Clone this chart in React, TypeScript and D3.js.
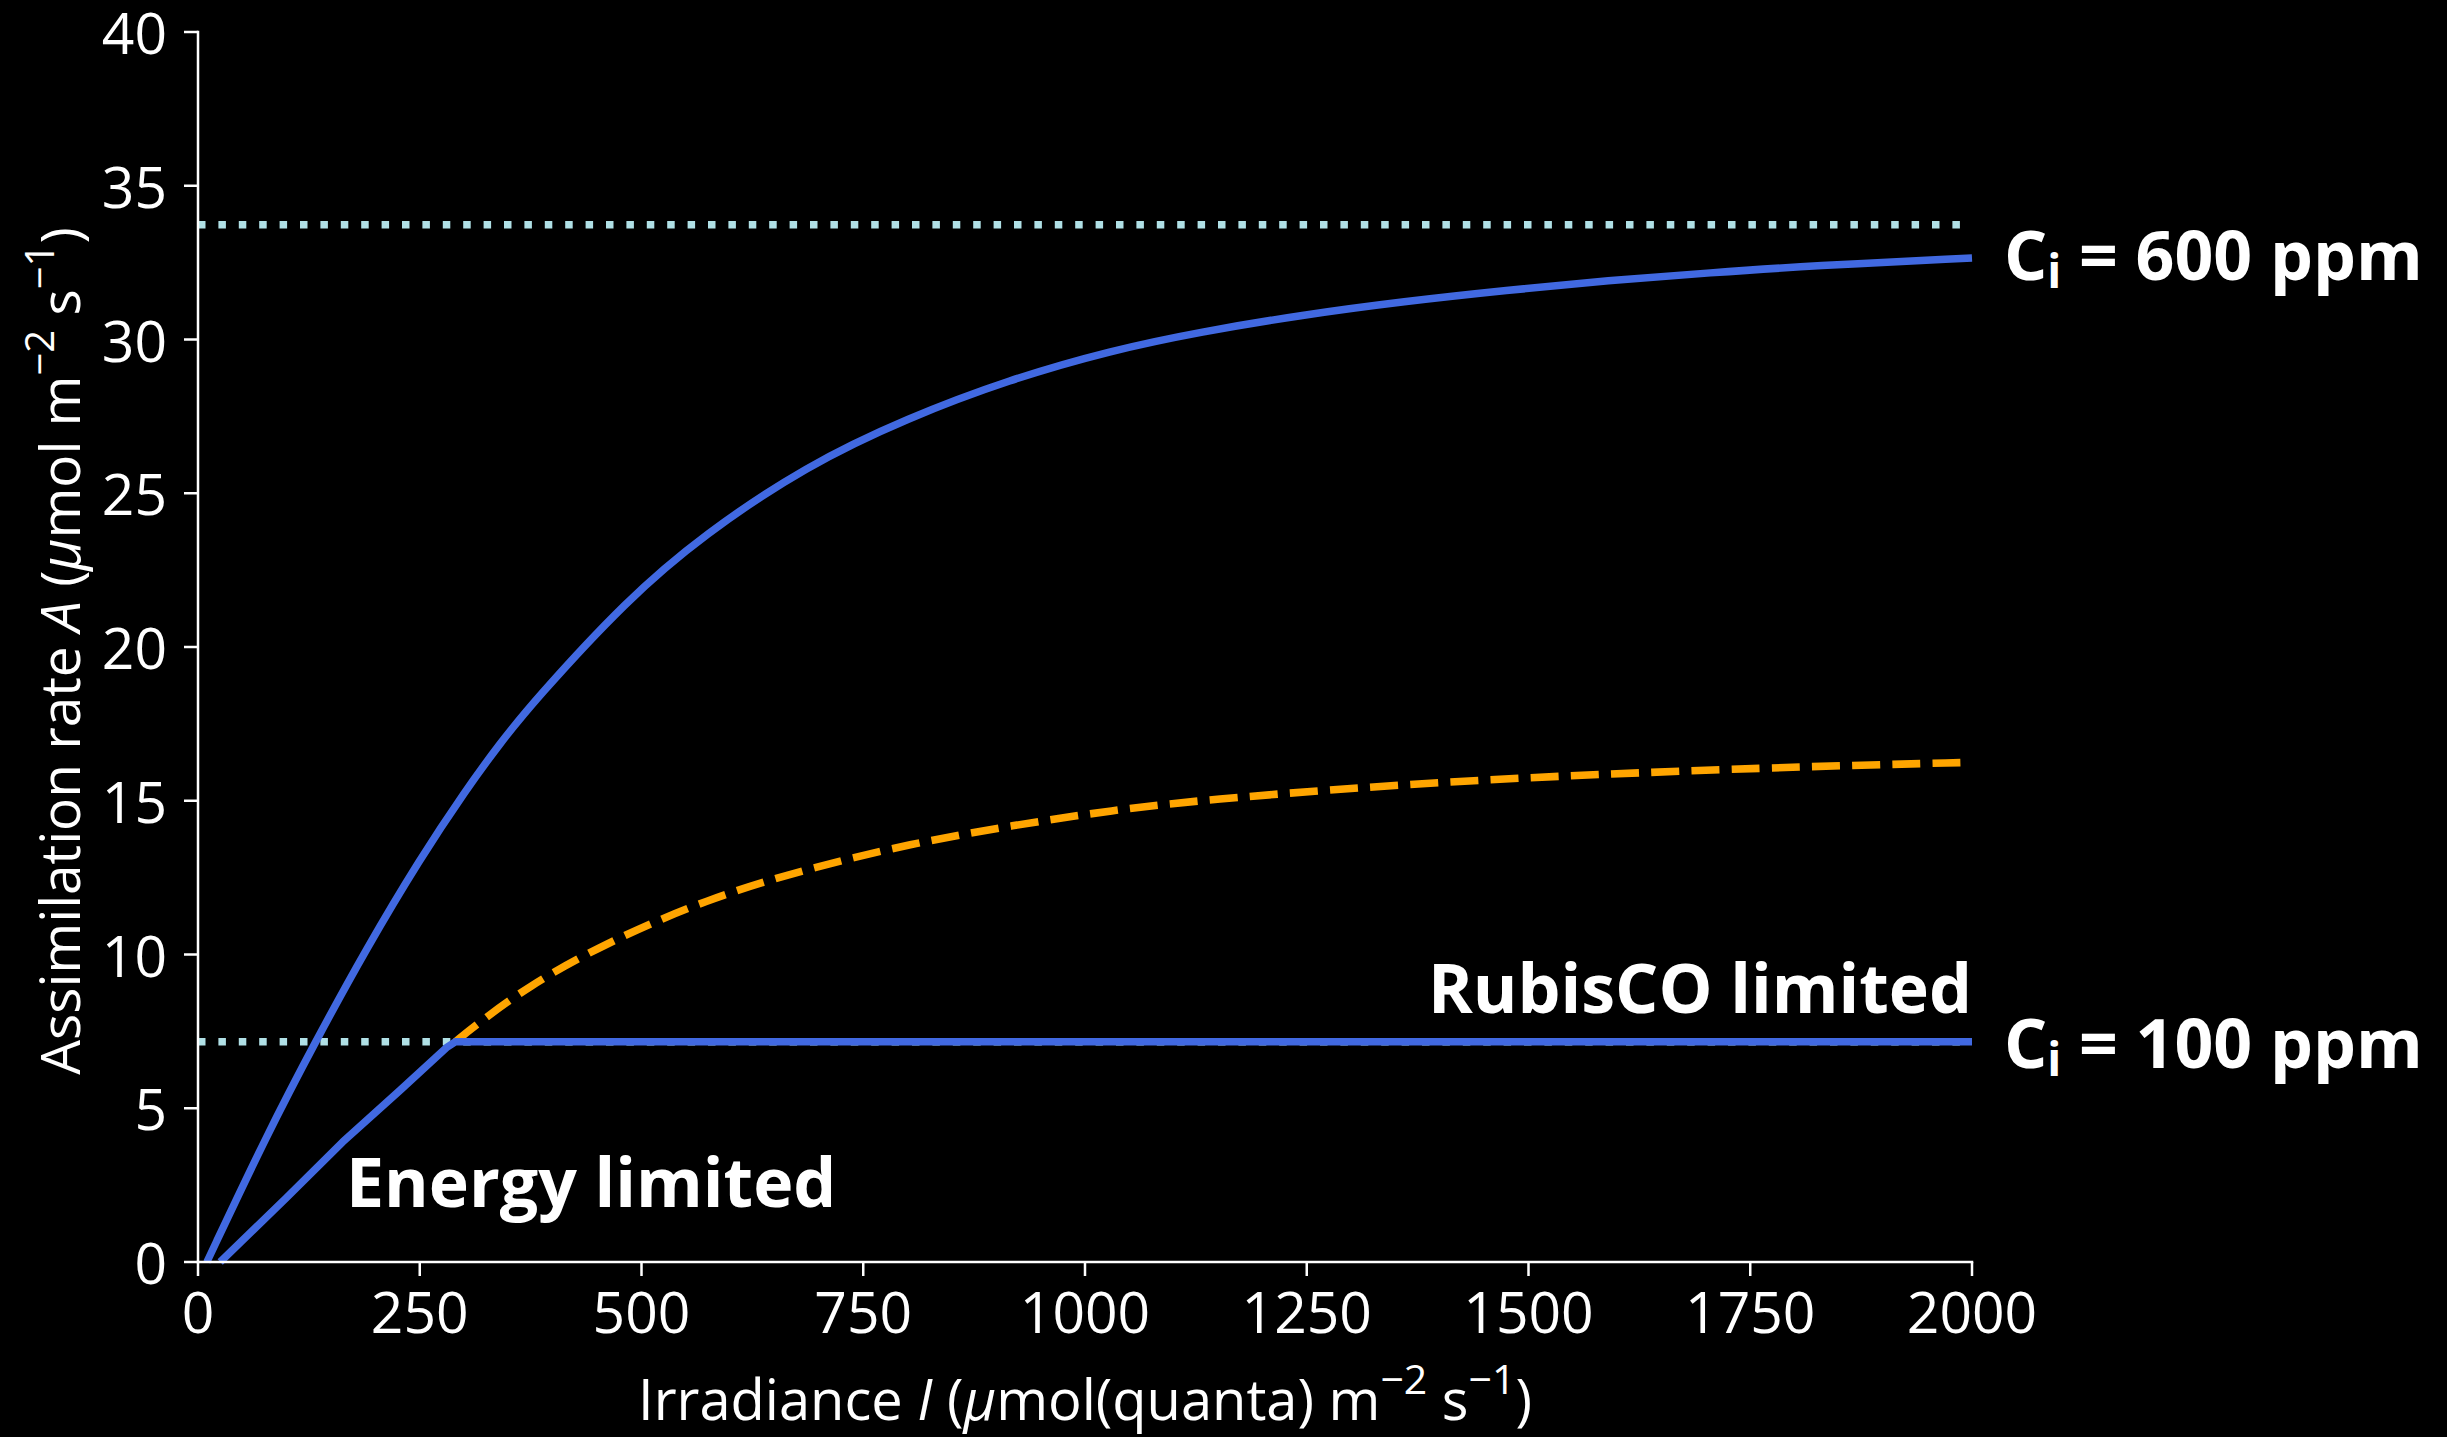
import React, { useEffect } from 'react';
import * as d3 from 'd3';

// Ci = 600 ppm curve (irradiance, assimilation)
const ci600Irr = [10, 77, 133, 190, 250, 302, 340, 379, 484, 570, 686, 800, 915, 1030, 1130, 1245, 1360, 1475, 1590, 1705, 1820, 2000];
const ci600A = [0, 4.1, 7.2, 10.2, 13.1, 15.35, 16.85, 18.25, 21.55, 23.65, 25.9, 27.45, 28.7, 29.65, 30.25, 30.8, 31.24, 31.6, 31.92, 32.17, 32.4, 32.65];

// Ci = 100 ppm actual (min of energy and RubisCO limits)
const ci100Irr = [25, 99, 163, 228, 280, 290, 2000];
const ci100A = [0, 2.07, 3.9, 5.59, 6.97, 7.16, 7.16];

// Ci = 100 ppm energy-limited continuation (dashed)
const energyIrr = [290, 314, 371, 458, 573, 688, 803, 918, 1033, 1130, 1360, 1590, 1820, 2000];
const energyA = [7.16, 7.72, 8.95, 10.35, 11.8, 12.8, 13.6, 14.2, 14.7, 15.02, 15.55, 15.88, 16.12, 16.25];

// RubisCO-limited plateaus (dotted)
const rubiscoLimits = [33.73, 7.16];

const xTicks = [0, 250, 500, 750, 1000, 1250, 1500, 1750, 2000];
const yTicks = [0, 5, 10, 15, 20, 25, 30, 35, 40];

const FONT = "'Open Sans', 'Noto Sans', sans-serif";

export default function App() {
  useEffect(() => {
    document.body.style.margin = '0';
    document.body.style.background = '#000';
  }, []);

  const W = 2447;
  const H = 1437;
  const x = d3.scaleLinear().domain([0, 2000]).range([198, 1972]);
  const y = d3.scaleLinear().domain([0, 40]).range([1262, 32]);

  const smooth = d3
    .line<[number, number]>()
    .x((d) => x(d[0]))
    .y((d) => y(d[1]))
    .curve(d3.curveBasis);
  const straight = d3
    .line<[number, number]>()
    .x((d) => x(d[0]))
    .y((d) => y(d[1]))
    .curve(d3.curveLinear);

  const ci600 = ci600Irr.map((v, i) => [v, ci600A[i]] as [number, number]);
  const ci100 = ci100Irr.map((v, i) => [v, ci100A[i]] as [number, number]);
  const energy = energyIrr.map((v, i) => [v, energyA[i]] as [number, number]);

  const blue = '#4169E1';
  const orange = '#FFA500';
  const dotted = '#B0E0E6';

  return (
    <svg
      width={W}
      height={H}
      style={{ position: 'absolute', left: 0, top: 0, display: 'block', background: '#000' }}
      fontFamily={FONT}
    >
      <rect x={0} y={0} width={W} height={H} fill="#000" />

      {/* dotted RubisCO limits */}
      {rubiscoLimits.map((v, i) => (
        <line
          key={'d' + i}
          x1={x(0)}
          x2={x(2000)}
          y1={y(v)}
          y2={y(v)}
          stroke={dotted}
          strokeWidth={7.5}
          strokeDasharray="7.5 12.9"
        />
      ))}

      {/* energy-limited continuation */}
      <path d={smooth(energy) || ''} fill="none" stroke={orange} strokeWidth={7.6} strokeDasharray="28 12.2" />

      {/* blue curves */}
      <path d={straight(ci100) || ''} fill="none" stroke={blue} strokeWidth={7.5} strokeLinejoin="round" />
      <path d={smooth(ci600) || ''} fill="none" stroke={blue} strokeWidth={7.5} strokeLinejoin="round" />

      {/* axes */}
      <line x1={x(0)} x2={x(0)} y1={y(0)} y2={y(40)} stroke="#fff" strokeWidth={2.5} strokeLinecap="square" />
      <line x1={x(0)} x2={x(2000)} y1={y(0)} y2={y(0)} stroke="#fff" strokeWidth={2.5} strokeLinecap="square" />

      {xTicks.map((t) => (
        <g key={'xt' + t}>
          <line x1={x(t)} x2={x(t)} y1={y(0)} y2={y(0) + 14} stroke="#fff" strokeWidth={2.5} />
          <text x={x(t)} y={1333} textAnchor="middle" fill="#fff" fontSize={57}>
            {t}
          </text>
        </g>
      ))}
      {yTicks.map((t) => (
        <g key={'yt' + t}>
          <line x1={x(0) - 14} x2={x(0)} y1={y(t)} y2={y(t)} stroke="#fff" strokeWidth={2.5} />
          <text x={167} y={y(t) + 22} textAnchor="end" fill="#fff" fontSize={57}>
            {t}
          </text>
        </g>
      ))}

      {/* axis labels */}
      <text x={(x(0) + x(2000)) / 2} y={1420} textAnchor="middle" fill="#fff" fontSize={56}>
        Irradiance <tspan fontStyle="italic">I</tspan> (<tspan fontStyle="italic">μ</tspan>mol(quanta) m
        <tspan dy={-26} fontSize={41}>−2</tspan>
        <tspan dy={26}> s</tspan>
        <tspan dy={-26} fontSize={41}>−1</tspan>
        <tspan dy={26}>)</tspan>
      </text>
      <text transform={`translate(80, 651) rotate(-90)`} textAnchor="middle" fill="#fff" fontSize={55}>
        Assimilation rate <tspan fontStyle="italic">A</tspan> (<tspan fontStyle="italic">μ</tspan>mol m
        <tspan dy={-26} fontSize={40}>−2</tspan>
        <tspan dy={26}> s</tspan>
        <tspan dy={-26} fontSize={40}>−1</tspan>
        <tspan dy={26}>)</tspan>
      </text>

      {/* annotations */}
      <text x={2004} y={280} fill="#fff" fontSize={68} fontWeight="bold">
        C<tspan fontSize={46} dy={8}>i</tspan>
        <tspan dy={-8}> = 600 ppm</tspan>
      </text>
      <text x={2004} y={1068} fill="#fff" fontSize={68} fontWeight="bold">
        C<tspan fontSize={46} dy={8}>i</tspan>
        <tspan dy={-8}> = 100 ppm</tspan>
      </text>
      <text x={x(2000)} y={1013} textAnchor="end" fill="#fff" fontSize={68} fontWeight="bold">
        RubisCO limited
      </text>
      <text x={346} y={1207} fill="#fff" fontSize={68} fontWeight="bold">
        Energy limited
      </text>
    </svg>
  );
}
